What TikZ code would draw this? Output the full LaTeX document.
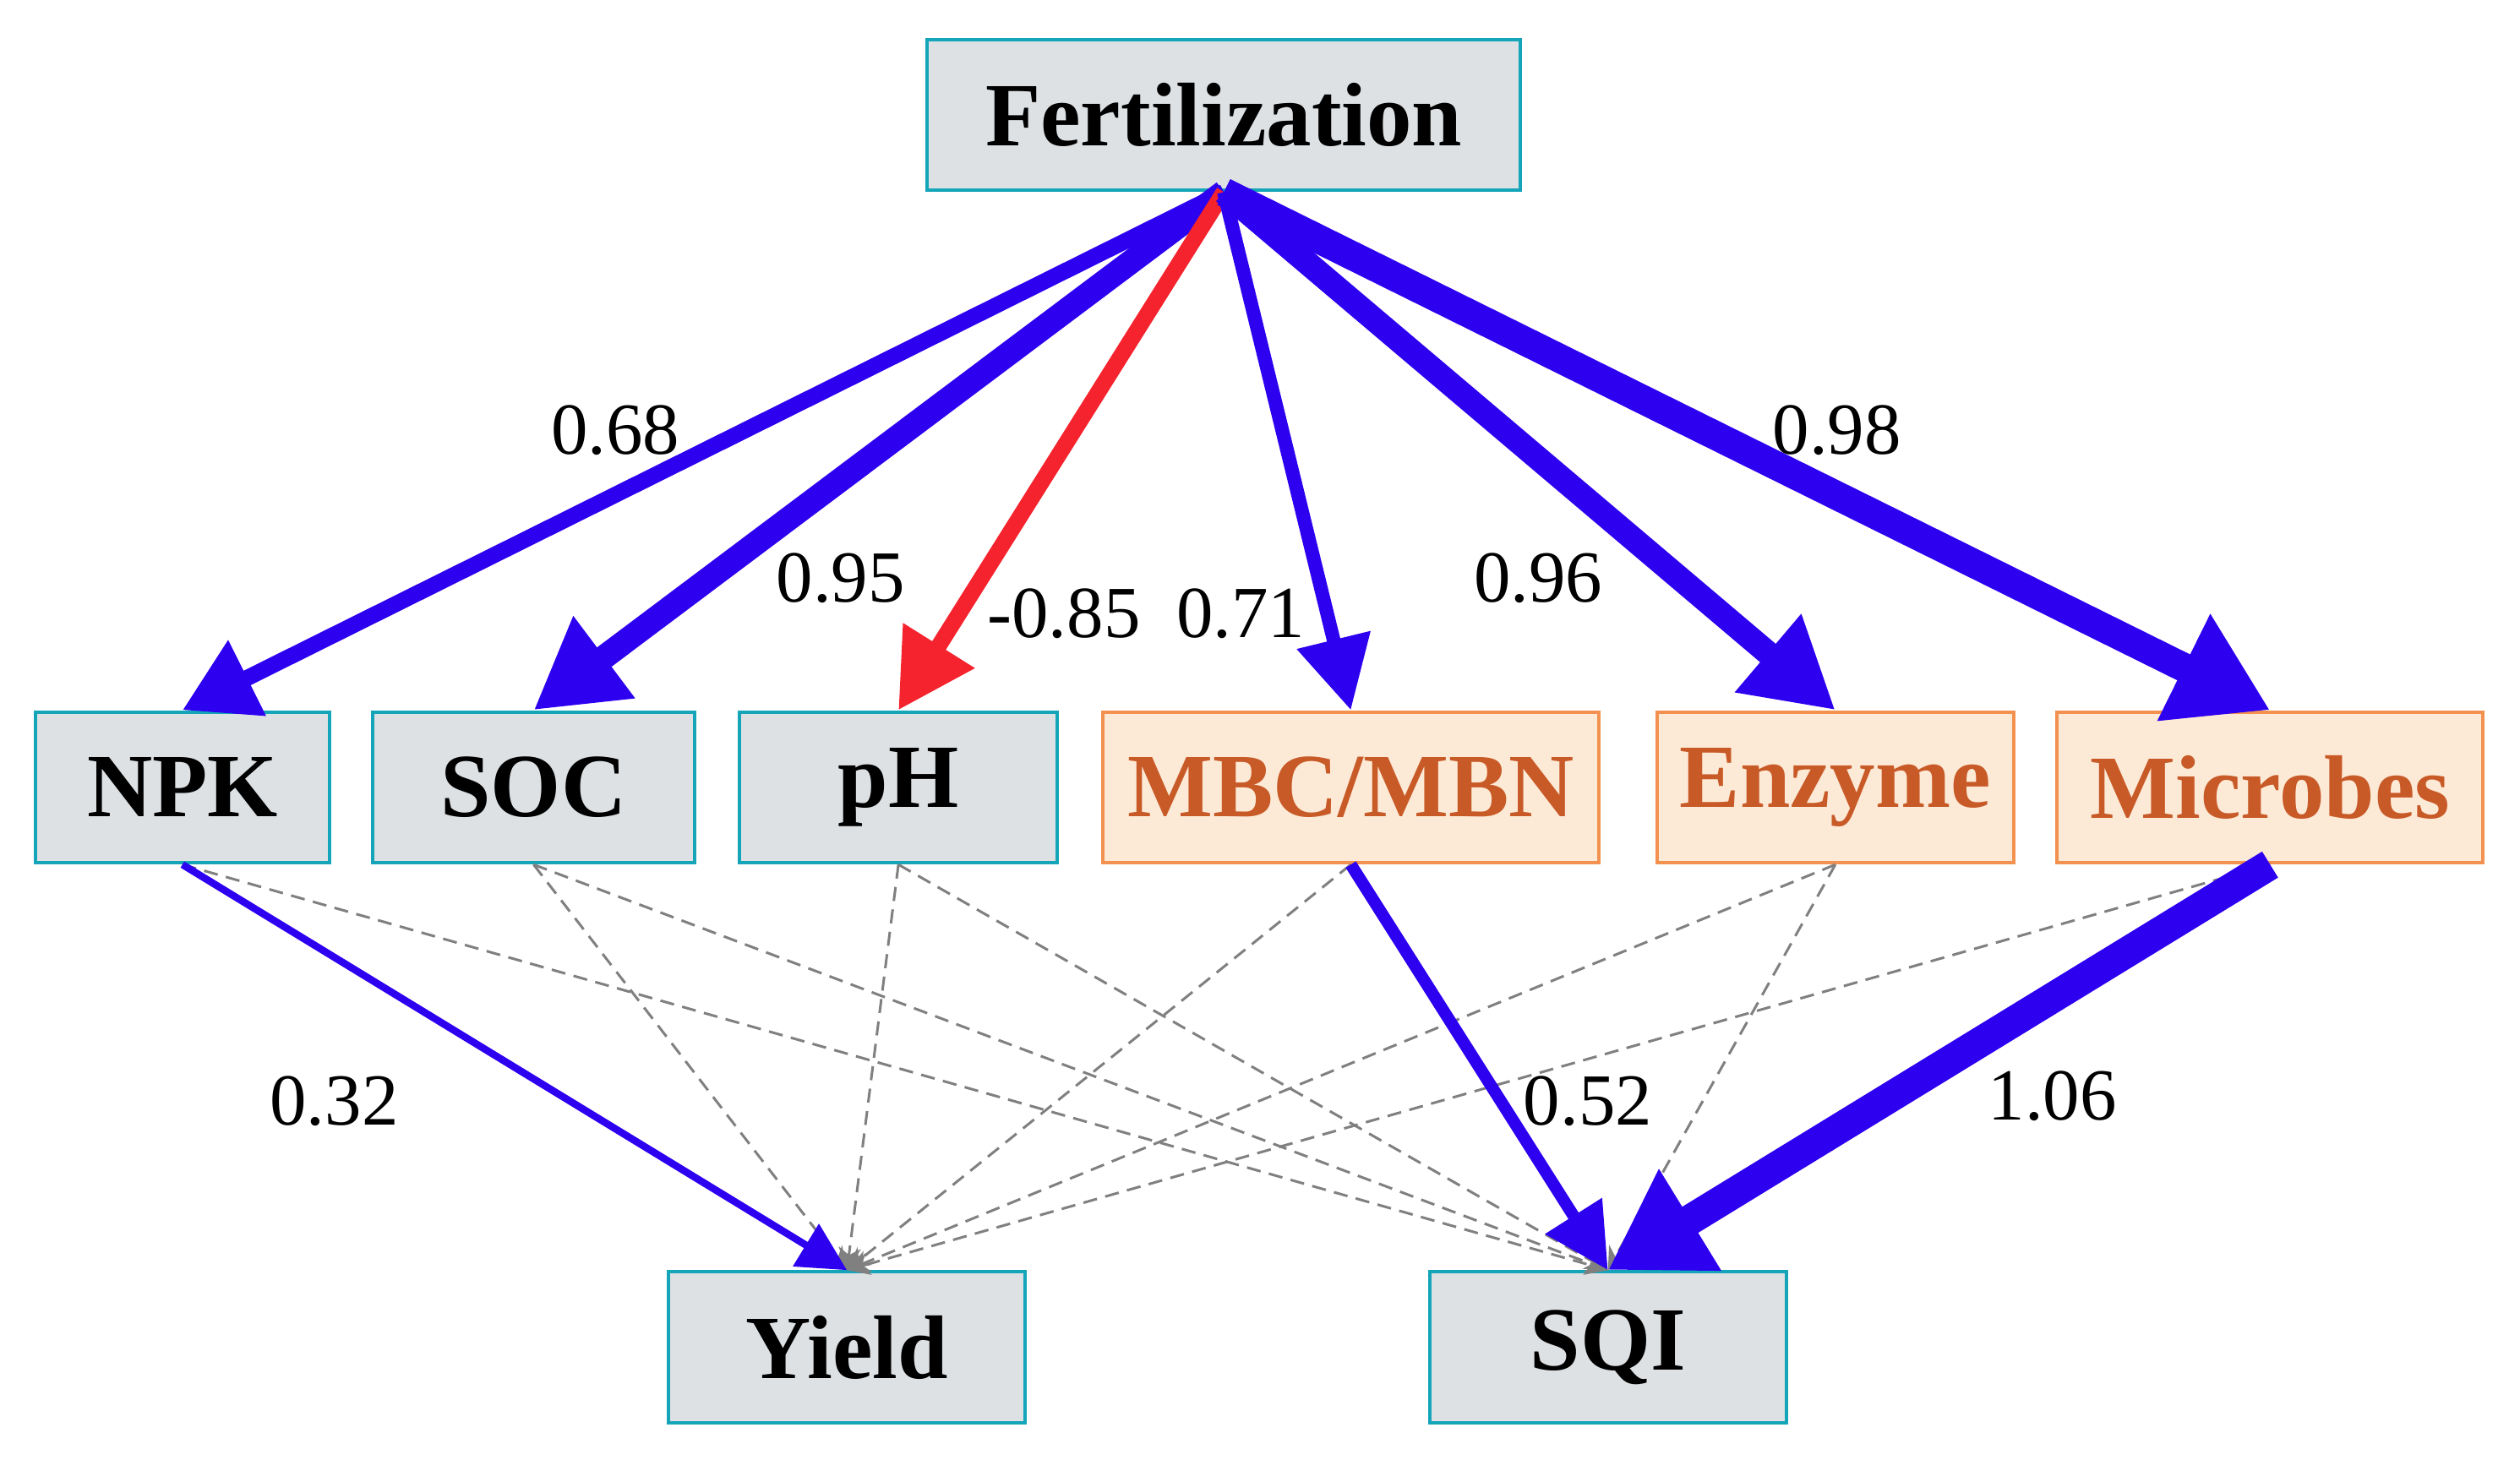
\documentclass[tikz,border=0pt]{standalone}
\usepackage{fontspec}
\setmainfont{Liberation Serif}
\usetikzlibrary{arrows.meta}
\definecolor{boxfill}{RGB}{221,225,228}
\definecolor{boxline}{RGB}{20,165,185}
\definecolor{orfill}{RGB}{253,234,214}
\definecolor{orline}{RGB}{242,145,80}
\definecolor{ortext}{RGB}{200,90,40}
\definecolor{pblue}{RGB}{45,0,240}
\definecolor{pred}{RGB}{245,35,45}
\tikzset{
 gbox/.style={draw=boxline,fill=boxfill,line width=1.2pt,font=\fontsize{32}{38}\selectfont\bfseries,inner sep=0pt,minimum height=1.88cm},
 obox/.style={draw=orline,fill=orfill,line width=1.2pt,text=ortext,font=\fontsize{32}{38}\selectfont\bfseries,inner sep=0pt,minimum height=1.88cm},
 lab/.style={font=\fontsize{26}{30}\selectfont},
 dsh/.style={draw=gray,line width=0.9pt,dash pattern=on 5pt off 3pt,-{Stealth[length=8pt,width=8pt]}},
 parr/.style={draw=pblue,line width=#1},
}
\begin{document}
\begin{tikzpicture}[x=0.02cm,y=-0.02cm]
\useasboundingbox (0,0) rectangle (1568,915);
\node[gbox,minimum width=7.38cm] (fert) at (761.5,71.5) {Fertilization};
\node[gbox,minimum width=3.66cm] (npk) at (113.5,490) {NPK};
\node[gbox,minimum width=4.0cm] (soc) at (332,490) {SOC};
\node[gbox,minimum width=3.96cm] (ph) at (559,490) {pH};
\node[obox,minimum width=6.18cm] (mbc) at (840.5,490) {MBC/MBN};
\node[obox,minimum width=4.44cm] (enz) at (1142,490) {Enzyme};
\node[obox,minimum width=5.3cm] (mic) at (1412.5,490) {Microbes};
\node[gbox,minimum width=4.44cm] (yield) at (527,838.5) {Yield};
\node[gbox,minimum width=4.44cm] (sqi) at (1000.5,838.5) {SQI};
% dashed
\foreach \s in {soc,ph,mbc,enz,mic} \draw[dsh] (\s.south) -- (yield.north);
\foreach \s in {npk,soc,ph,enz} \draw[dsh] (\s.south) -- (sqi.north);
% top arrows
\draw[pblue,line width=0.2cm,-{Triangle[length=0.9cm,width=1.0cm]}] (fert.south) -- (npk.north);
\draw[pblue,line width=0.3cm,-{Triangle[length=1.1cm,width=1.2cm]}] (fert.south) -- (soc.north);
\draw[pred,line width=0.2cm,-{Triangle[length=0.95cm,width=1.0cm]}] (fert.south) -- (ph.north);
\draw[pblue,line width=0.17cm,-{Triangle[length=0.9cm,width=0.9cm]}] (fert.south) -- (mbc.north);
\draw[pblue,line width=0.3cm,-{Triangle[length=1.1cm,width=1.2cm]}] (fert.south) -- (enz.north);
\draw[pblue,line width=0.36cm,-{Triangle[length=1.2cm,width=1.4cm]}] (fert.south) -- (mic.north);
% bottom arrows
\draw[pblue,line width=0.09cm,-{Triangle[length=0.6cm,width=0.6cm]}] (npk.south) -- (yield.north);
\draw[pblue,line width=0.15cm,-{Triangle[length=0.8cm,width=0.8cm]}] (mbc.south) -- (sqi.north);
\draw[pblue,line width=0.38cm,-{Triangle[length=1.2cm,width=1.4cm]}] (mic.south) -- (sqi.north);
% labels
\node[lab] (l1) at (383,268) {0.68};
\node[lab] (l2) at (523,360) {0.95};
\node[lab] (l3) at (662,382) {-0.85};
\node[lab] (l4) at (772,382) {0.71};
\node[lab] (l5) at (957,360) {0.96};
\node[lab] (l6) at (1143,268) {0.98};
\node[lab] (l7) at (208,685) {0.32};
\node[lab] (l8) at (988,685) {0.52};
\node[lab] (l9) at (1277,682) {1.06};
\end{tikzpicture}
\end{document}
